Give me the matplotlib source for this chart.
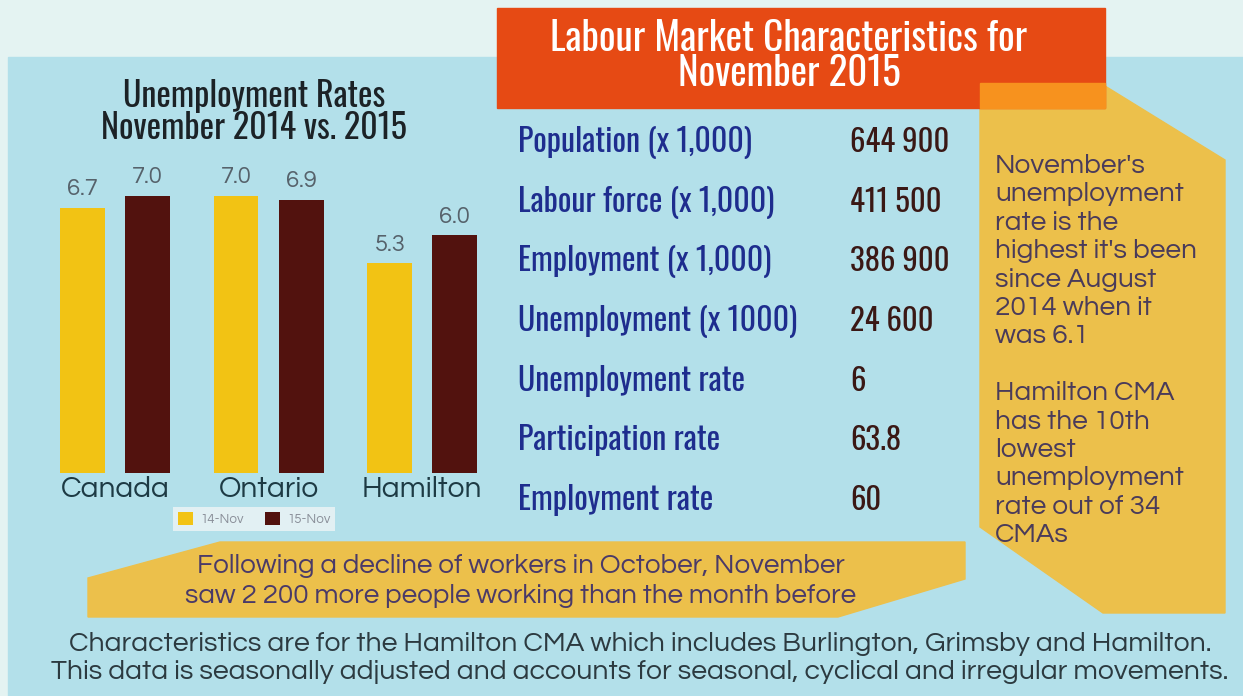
import matplotlib
matplotlib.use("Agg")
from matplotlib import pyplot as plt
from matplotlib.patches import Polygon, Rectangle
import numpy as np

# chart data
regions = ["Canada", "Ontario", "Hamilton"]
nov_2014 = [6.7, 7.0, 5.3]
nov_2015 = [7.0, 6.9, 6.0]
series_names = ["14-Nov", "15-Nov"]

# table data
table_labels = ["Population (x 1,000)", "Labour force (x 1,000)", "Employment (x 1,000)",
                "Unemployment (x 1000)", "Unemployment rate", "Participation rate", "Employment rate"]
table_values = ["644 900", "411 500", "386 900", "24 600", "6", "63.8", "60"]

header = "Labour Market Characteristics for\nNovember 2015"
side_note = ["November's", "unemployment", "rate is the", "highest it's been", "since August",
             "2014 when it", "was 6.1", "", "Hamilton CMA", "has the 10th", "lowest",
             "unemployment", "rate out of 34", "CMAs"]
banner_note = ["Following a decline of workers in October, November",
               "saw 2 200 more people working than the month before"]
footer_note = ["Characteristics are for the Hamilton CMA which includes Burlington, Grimsby and Hamilton.",
               "This data is seasonally adjusted and accounts for seasonal, cyclical and irregular movements."]

YELLOW = "#f2c314"
BROWN = "#52120e"
PANEL = "#b3e0ea"
NOTE = "#ecc04b"
TALL = ["Oswald", "DejaVu Sans"]
ROUND = ["Questrial", "DejaVu Sans"]

W, H = 1243, 696
fig = plt.figure(figsize=(W / 100, H / 100), dpi=100)
fig.patch.set_facecolor("#e4f3f2")
rend = fig.canvas.get_renderer()


def fit(texts, width):
	# scale a group of texts so that the widest one is `width` px wide
	w = max(t.get_window_extent(rend).width for t in texts)
	for t in texts:
		t.set_fontsize(t.get_fontsize() * width / w)


# background layer in pixel coordinates
bg = fig.add_axes([0, 0, 1, 1])
bg.set_xlim(0, W)
bg.set_ylim(H, 0)
bg.axis("off")

bg.add_patch(Rectangle((8, 57), W - 8, H - 57, color=PANEL, zorder=0))
bg.add_patch(Rectangle((497, 8), 608, 100, color="#e64a14", zorder=2))
bg.add_patch(Rectangle((980, 83), 125, 25, color="#f7921e", zorder=3))
bg.add_patch(Polygon([(980, 108), (1105, 108), (1105, 86), (1225, 160), (1225, 613),
                      (1103, 613), (980, 527)], closed=True, color=NOTE, zorder=1))
bg.add_patch(Polygon([(220, 542), (965, 542), (965, 579), (838, 617), (88, 617), (88, 578)],
                     closed=True, color=NOTE, zorder=1))

t1 = bg.text(254, 107, "Unemployment Rates", family=TALL, fontsize=20, color="#1c2226",
             ha="center", va="baseline")
t2 = bg.text(254, 139, "November 2014 vs. 2015", family=TALL, fontsize=20, color="#1c2226",
             ha="center", va="baseline")
fit([t1, t2], 306)

# header as one two-line text, line pitch of 33 px (baselines at 59 and 92)
h = bg.text(789, 60, header, family=TALL, fontsize=20, color="white", ha="center",
            va="center", multialignment="center", linespacing=1.0, zorder=4)
fit([h], 478)
one = bg.text(0, 0, "November 2015", family=TALL, fontsize=h.get_fontsize())
h0 = one.get_window_extent(rend).height
one.remove()
a = h.get_window_extent(rend).height - h0
h.set_linespacing(1 + (33 - h0) / a)
h.set_y((59 - a + 92 + (h0 - a)) / 2)

labs, vals = [], []
for i, (lab, val) in enumerate(zip(table_labels, table_values)):
	y = 152 + i * 59.7
	labs.append(bg.text(518, y, lab, family=TALL, fontsize=20, color="#1e2d8e",
	                    ha="left", va="baseline"))
	vals.append(bg.text(850, y, val, family=TALL, fontsize=20, color="#3a1815",
	                    ha="left", va="baseline"))
fit(labs, 280)
fit(vals, 100)

side = [bg.text(995, 173 + i * 28.4, s, family=ROUND, fontsize=14, color="#4a3b5a",
                ha="left", va="baseline", zorder=4) for i, s in enumerate(side_note)]
fit(side, 203)

ban = [bg.text(521, 573 + i * 30, s, family=ROUND, fontsize=14, color="#4a3a68",
               ha="center", va="baseline", zorder=4) for i, s in enumerate(banner_note)]
fit(ban, 673)

foot = [bg.text(640, 651 + i * 28, s, family=ROUND, fontsize=14, color="#2c3a40",
                ha="center", va="baseline") for i, s in enumerate(footer_note)]
fit(foot, 1176)

# bar chart, 1 x-unit = 153.5 px, baseline at 473 px
ax = fig.add_axes([40 / W, 1 - 473 / H, 460 / W, 416 / H])
ax.set_facecolor("none")
ax.set_xlim(-0.489, 2.508)
ax.set_ylim(0, 10.5)
x = np.arange(len(regions))
off, bw = 0.212, 0.293
b1 = ax.bar(x - off, nov_2014, bw, color=YELLOW, label=series_names[0])
b2 = ax.bar(x + off, nov_2015, bw, color=BROWN, label=series_names[1])

# size of the value labels, measured on a plain text
probe = bg.text(0, 0, "6.7", family=ROUND, fontsize=13)
fit([probe], 31)
vsize = probe.get_fontsize()
probe.remove()
for bars, vs in ((b1, nov_2014), (b2, nov_2015)):
	for b, v in zip(bars, vs):
		ax.annotate(f"{v:.1f}", (b.get_x() + b.get_width() / 2, v), xytext=(0, 9),
		            textcoords="offset points", ha="center", va="baseline",
		            family=ROUND, fontsize=vsize, color="#56626b", annotation_clip=False)

ax.set_xticks(x)
ax.set_xticklabels(regions, family=ROUND, fontsize=17, color="#1d3a44")
ax.tick_params(length=0, pad=2)
ax.set_yticks([])
for s in ax.spines.values():
	s.set_visible(False)
fit(ax.get_xticklabels(), 120)

leg = ax.legend(loc="center", bbox_to_anchor=(214 / 460, -46 / 416), ncol=2,
                frameon=True, facecolor="#eef5f6", edgecolor="none", handlelength=1.2,
                handleheight=1.2, columnspacing=1.6, borderpad=0.35, handletextpad=0.5,
                fancybox=False, prop={"family": ROUND, "size": 9.5})
for t in leg.get_texts():
	t.set_color("#8a8f99")

fig.savefig("out.png", dpi=100)
